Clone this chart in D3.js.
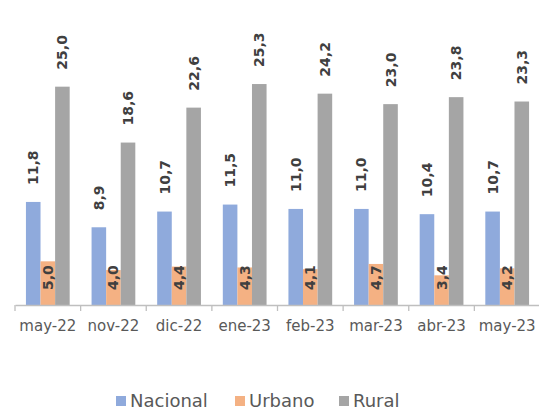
<!DOCTYPE html>
<html>
<head>
<meta charset="utf-8">
<script src="https://cdn.jsdelivr.net/npm/d3@7"></script>
<style>
  body { margin: 0; background: #fff; }
  svg { display: block; }
</style>
</head>
<body>
<div id="chart-area"></div>
<script>
// data
let categories = ["may-22", "nov-22", "dic-22", "ene-23", "feb-23", "mar-23", "abr-23", "may-23"];
let seriesNames = ["Nacional", "Urbano", "Rural"];
let nacional = [11.8, 8.9, 10.7, 11.5, 11.0, 11.0, 10.4, 10.7];
let urbano = [5.0, 4.0, 4.4, 4.3, 4.1, 4.7, 3.4, 4.2];
let rural = [25.0, 18.6, 22.6, 25.3, 24.2, 23.0, 23.8, 23.3];
let colors = ["#8faadc", "#f4b183", "#a5a5a5"];

let width = 539, height = 412;
let margin = {top: 43, left: 15, right: -1, bottom: 107};
let plotH = height - margin.top - margin.bottom;

let svg = d3.select("#chart-area")
    .append("svg")
        .attr("width", width)
        .attr("height", height)

let g = svg.append("g")
    .attr("transform", "translate(" + margin.left + ", " + margin.top + ")")

let x = d3.scaleBand()
    .domain(categories)
    .range([0, width - margin.left - margin.right])
    .paddingInner(0)
    .paddingOuter(0);

let xs = d3.scaleBand()
    .domain(seriesNames)
    .range([0, x.bandwidth()])
    .paddingOuter(0.75)
    .paddingInner(0);

let y = d3.scaleLinear()
    .domain([0, 30])
    .range([plotH, 0]);

let rows = categories.map((c, i) => ({
    cat: c,
    vals: [
        {s: "Nacional", v: nacional[i]},
        {s: "Urbano", v: urbano[i]},
        {s: "Rural", v: rural[i]}
    ]
}));

let groups = g.selectAll(".grp")
    .data(rows)
    .enter().append("g")
        .attr("class", "grp")
        .attr("transform", d => "translate(" + x(d.cat) + ",0)")

groups.selectAll("rect")
    .data(d => d.vals)
    .enter().append("rect")
        .attr("x", d => xs(d.s))
        .attr("width", xs.bandwidth())
        .attr("y", d => y(d.v))
        .attr("height", d => plotH - y(d.v))
        .attr("fill", (d, i) => colors[i])

// value labels, rotated
groups.selectAll(".val")
    .data(d => d.vals)
    .enter().append("text")
        .attr("class", "val")
        .attr("transform", d => {
            let cx = xs(d.s) + xs.bandwidth() / 2;
            // urbano labels sit at the base inside the bar
            let cy = d.s == "Urbano" ? plotH - 15 : y(d.v) - 17;
            return "translate(" + cx + "," + cy + ") rotate(-90)";
        })
        .attr("dy", "0.36em")
        .attr("text-anchor", "start")
        .attr("font-family", "DejaVu Sans")
        .attr("font-weight", "bold")
        .attr("font-size", "14px")
        .attr("fill", "#404040")
        .text(d => d.v.toFixed(1).replace(".", ","))

// x axis
let xAxisGroup = g.append("g")
    .attr("transform", "translate(0, " + plotH + ")")
    .call(d3.axisBottom(x).tickSize(0).tickPadding(15))

xAxisGroup.select(".domain").attr("stroke", "#bfbfbf").attr("stroke-width", 1.3)
xAxisGroup.selectAll("text")
    .attr("font-family", "DejaVu Sans")
    .attr("font-size", "15px")
    .attr("fill", "#595959")

// ticks between categories
xAxisGroup.selectAll(".sep")
    .data(categories.concat(["end"]))
    .enter().append("line")
        .attr("class", "sep")
        .attr("x1", (d, i) => i * x.bandwidth())
        .attr("x2", (d, i) => i * x.bandwidth())
        .attr("y1", 0)
        .attr("y2", 6)
        .attr("stroke", "#bfbfbf")
        .attr("stroke-width", 1.3)

// legend
let legendX = [116, 235, 339];
let legend = svg.selectAll(".leg")
    .data(seriesNames)
    .enter().append("g")
        .attr("class", "leg")
        .attr("transform", (d, i) => "translate(" + legendX[i] + ", 396)")

legend.append("rect")
    .attr("width", 10)
    .attr("height", 10)
    .attr("fill", (d, i) => colors[i])

legend.append("text")
    .attr("x", 14)
    .attr("y", 5)
    .attr("dy", "0.36em")
    .attr("font-family", "DejaVu Sans")
    .attr("font-size", "18px")
    .attr("fill", "#595959")
    .text(d => d)
</script>
</body>
</html>
